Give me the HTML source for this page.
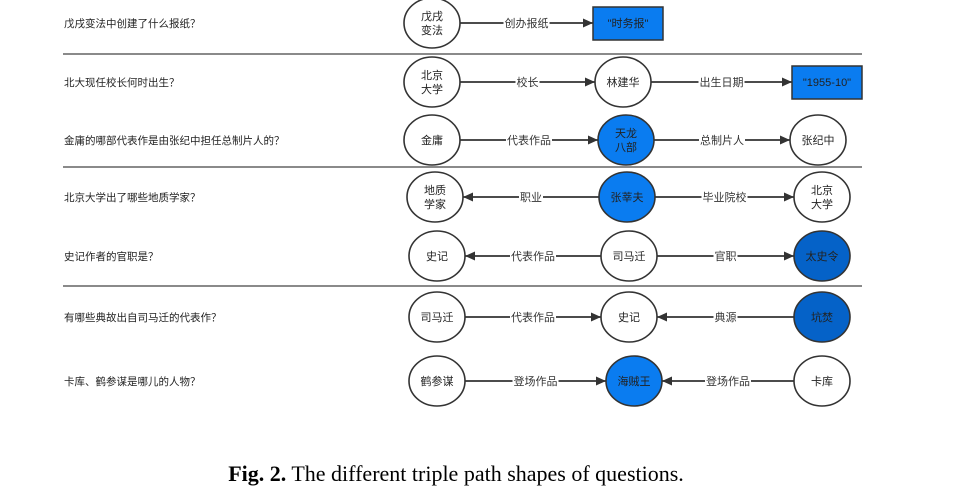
<!DOCTYPE html>
<html><head><meta charset="utf-8"><style>
html,body{margin:0;padding:0;background:#fff;}
svg{display:block;}
text{font-family:"Liberation Sans","Noto Sans CJK SC",sans-serif;}
</style></head><body>
<svg id="fig" width="978" height="493" viewBox="0 0 978 493" xmlns="http://www.w3.org/2000/svg">
<defs><marker id="ah" viewBox="0 0 10 10" refX="10" refY="5" markerWidth="11" markerHeight="10" markerUnits="userSpaceOnUse" orient="auto"><path d="M0,0.5 L10,5 L0,9.5 z" fill="#333"/></marker></defs>
<g id="content"></g>
<text x="456" y="481" text-anchor="middle" font-size="22" style="font-family:'Liberation Serif',serif"><tspan font-weight="bold">Fig. 2.</tspan> The different triple path shapes of questions.</text>
</svg>
<script>
const questions=["戊戌变法中创建了什么报纸？","北大现任校长何时出生？","金庸的哪部代表作是由张纪中担任总制片人的？","北京大学出了哪些地质学家？","史记作者的官职是？","有哪些典故出自司马迁的代表作？","卡库、鹤参谋是哪儿的人物？"];
const rowY=[23,82,140,197,256,317,381];
const dividers=[54,167,286];
const nodes=[
[0,432,["戊戌","变法"],"w"],[0,628,["\"时务报\""],"box"],
[1,432,["北京","大学"],"w"],[1,623,["林建华"],"w"],[1,827,["\"1955-10\""],"box"],
[2,432,["金庸"],"w"],[2,626,["天龙","八部"],"b"],[2,818,["张纪中"],"w"],
[3,435,["地质","学家"],"w"],[3,627,["张莘夫"],"b"],[3,822,["北京","大学"],"w"],
[4,437,["史记"],"w"],[4,629,["司马迁"],"w"],[4,822,["太史令"],"d"],
[5,437,["司马迁"],"w"],[5,629,["史记"],"w"],[5,822,["坑焚"],"d"],
[6,437,["鹤参谋"],"w"],[6,634,["海贼王"],"b"],[6,822,["卡库"],"w"]];
const edges=[[0,1,"创办报纸"],[2,3,"校长"],[3,4,"出生日期"],[5,6,"代表作品"],[6,7,"总制片人"],
[9,8,"职业"],[9,10,"毕业院校"],[12,11,"代表作品"],[12,13,"官职"],[14,15,"代表作品"],[16,15,"典源"],[17,18,"登场作品"],[19,18,"登场作品"]];
const NS="http://www.w3.org/2000/svg",g=document.getElementById('content');
function mk(t,a){const e=document.createElementNS(NS,t);for(const k in a)e.setAttribute(k,a[k]);g.appendChild(e);return e;}
const RX=28,RY=25,BW=35;
questions.forEach((q,i)=>{const t=mk('text',{x:64,y:rowY[i]+4,'font-size':10.5,fill:'#222'});t.textContent=q;

});
dividers.forEach(y=>{const l=mk('line',{x1:63,x2:862,y1:y,y2:y,stroke:'#444','stroke-width':1.3});

});
function half(n){return nodes[n][3]==="box"?BW:RX;}
edges.forEach(([a,b,lab])=>{const A=nodes[a],B=nodes[b],y=rowY[A[0]];const dir=B[1]>A[1]?1:-1;
const x1=A[1]+dir*half(a),x2=B[1]-dir*half(b);
const l=mk('line',{x1:x1,y1:y,x2:x2,y2:y,stroke:'#333','stroke-width':1.7,'marker-end':'url(#ah)'});


const mx=(x1+x2)/2,w=lab.length*11+2;
mk('rect',{x:mx-w/2,y:y-7,width:w,height:14,fill:'#fff'});
const t=mk('text',{x:mx,y:y+4,'text-anchor':'middle','font-size':11,fill:'#333'});t.textContent=lab;

});
nodes.forEach(([r,x,lines,type])=>{const y=rowY[r];let s;
if(type==="box"){s=mk('rect',{x:x-BW,y:y-16,width:BW*2,height:33,fill:'#0a7cf0',stroke:'#333','stroke-width':1.5});}
else{s=mk('ellipse',{cx:x,cy:y,rx:RX,ry:RY,fill:type==="w"?'#fff':type==="b"?'#0a7cf0':'#0562c8',stroke:'#333','stroke-width':1.6});}


lines.forEach((ln,i)=>{const t=mk('text',{x:x,y:y+4+(i-(lines.length-1)/2)*14,'text-anchor':'middle','font-size':11,fill:'#222'});t.textContent=ln;

});});
</script>
</body></html>
